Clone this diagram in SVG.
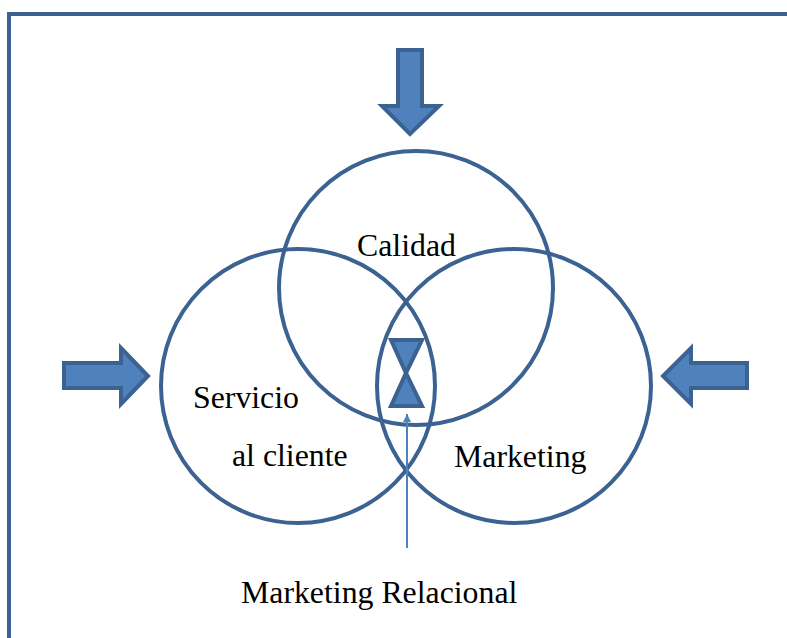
<svg xmlns="http://www.w3.org/2000/svg" width="787" height="638" viewBox="0 0 787 638">
<defs>
<style>
.frame{fill:none;stroke:#3b6290;stroke-width:4}
.circ{fill:none;stroke:#3b6290;stroke-width:4}
.blk{fill:#4f81bd;stroke:#3b6290;stroke-width:4;stroke-linejoin:miter}
.lbl{font-family:"Liberation Serif","Times New Roman",serif;font-size:31.8px;fill:#000}
.thin{stroke:#4f81bd;stroke-width:2;fill:none}
</style>
<marker id="ah" viewBox="0 0 10 10" refX="10" refY="5" markerWidth="8" markerHeight="8" orient="auto" markerUnits="userSpaceOnUse">
<path d="M0,0 L10,5 L0,10 z" fill="#4f81bd"/>
</marker>
</defs>
<rect width="787" height="638" fill="#fff"/>
<path class="frame" d="M9,640 L9,14 L790,14"/>
<g id="circle-calidad"><circle class="circ" cx="416" cy="288" r="137"/><text class="lbl" x="357" y="256">Calidad</text></g>
<g id="circle-servicio"><circle class="circ" cx="298" cy="386" r="137"/><text class="lbl" x="193" y="408">Servicio</text><text class="lbl" x="232" y="466">al cliente</text></g>
<g id="circle-marketing"><circle class="circ" cx="514" cy="386" r="137"/><text class="lbl" x="454" y="467">Marketing</text></g>
<g id="arrow-top"><path class="blk" d="M398,50 L422,50 L422,106 L439,106 L410,134 L382,106 L398,106 z"/></g>
<g id="arrow-left"><path class="blk" d="M64,363 L121,363 L121,348 L148,376 L121,404 L121,388 L64,388 z"/></g>
<g id="arrow-right"><path class="blk" d="M747,363 L691,363 L691,348 L663,376 L691,404 L691,388 L747,388 z"/></g>
<g id="hourglass"><path class="blk" d="M391,340 L422,340 L406,373 z"/><path class="blk" d="M406,373 L422,406 L391,406 z"/></g>
<g id="connectors"><line class="thin" x1="407" y1="548" x2="407" y2="414" marker-end="url(#ah)"/></g>
<g id="label-relacional"><text class="lbl" x="241" y="603">Marketing Relacional</text></g>
</svg>
